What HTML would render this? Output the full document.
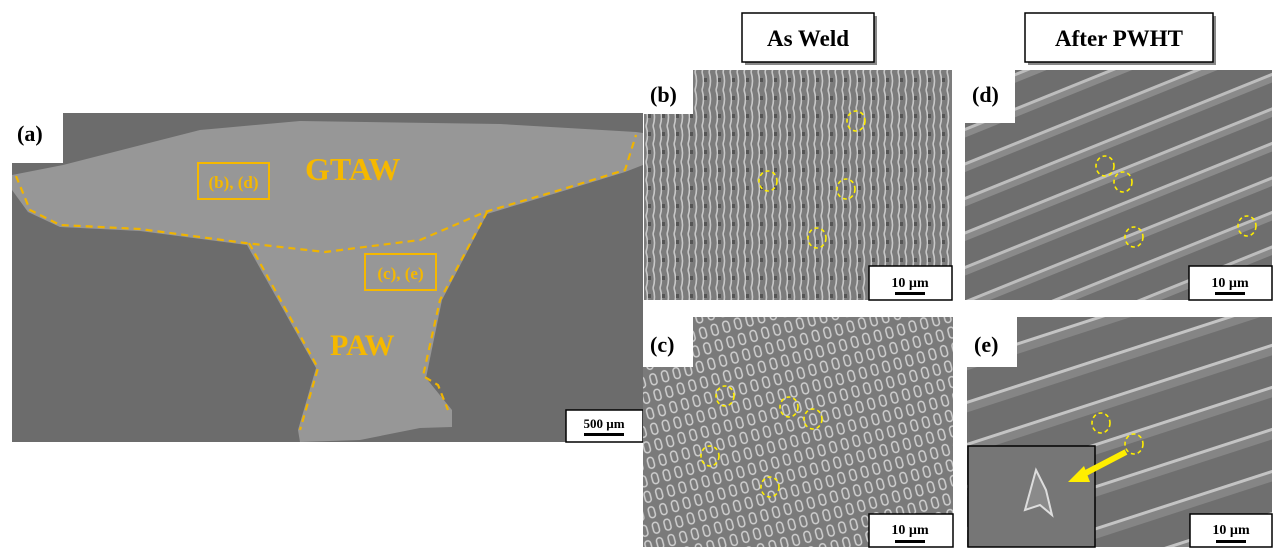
<!DOCTYPE html>
<html><head><meta charset="utf-8"><style>
html,body{margin:0;padding:0;background:#fff;}
svg{display:block;}
text{font-family:"Liberation Serif",serif;font-weight:bold;}
</style></head><body>
<svg width="1281" height="558" viewBox="0 0 1281 558" xmlns="http://www.w3.org/2000/svg">
<defs>
<pattern id="dend" width="14" height="18" patternUnits="userSpaceOnUse">
<rect width="14" height="18" fill="#7c7c7c"/>
<path d="M2 0 Q5 9 2 18 M9 0 Q12 9 9 18" stroke="#c8c8c8" stroke-width="1.6" fill="none"/>
<rect x="4" y="6" width="3" height="4" fill="#555"/>
</pattern>
<pattern id="dend2" width="12" height="16" patternUnits="userSpaceOnUse" patternTransform="rotate(-15)">
<rect width="12" height="16" fill="#7a7a7a"/>
<rect x="2" y="2" width="6" height="11" rx="3" fill="none" stroke="#d0d0d0" stroke-width="1.5"/>
</pattern>
<pattern id="stripe" width="60" height="32" patternUnits="userSpaceOnUse" patternTransform="rotate(-22)">
<rect width="60" height="32" fill="#6e6e6e"/>
<rect y="0" width="60" height="3" fill="#bdbdbd"/>
<rect y="3" width="60" height="6" fill="#8a8a8a"/>
</pattern>
<pattern id="stripe2" width="60" height="40" patternUnits="userSpaceOnUse" patternTransform="rotate(-18)">
<rect width="60" height="40" fill="#6f6f6f"/>
<rect y="0" width="60" height="3" fill="#c4c4c4"/>
<rect y="3" width="60" height="8" fill="#858585"/>
</pattern>
</defs>

<!-- Panel (a) -->
<rect x="12" y="113" width="631" height="329" fill="#6c6c6c"/>
<rect x="12" y="113" width="51" height="50" fill="#fff"/>
<path d="M12 175 L63 165 L200 130 L300 121 L500 124 L636 132 L643 133 L643 165 L625 172 L560 192 L487 214 L442 300 L426 378 L452 410 L452 427 L420 428 L360 440 L300 442 L298 430 L316 368 L247 245 L140 231 L60 227 L28 212 L12 190 Z" fill="#979797"/>
<path d="M16 176 L30 210 L60 225 L140 229 L245 243 L325 252 L420 240 L485 212 L560 190 L625 170 L636 135" stroke="#f0b400" stroke-width="2.2" stroke-dasharray="7,5" fill="none"/>
<path d="M249 243 L318 368 L300 430" stroke="#f0b400" stroke-width="2.2" stroke-dasharray="7,5" fill="none"/>
<path d="M487 212 L440 300 L423 376 L438 385 L448 410" stroke="#f0b400" stroke-width="2.2" stroke-dasharray="7,5" fill="none"/>
<text x="17" y="141" font-size="22" fill="#000">(a)</text>
<text x="305" y="180" font-size="32" fill="#f5b800">GTAW</text>
<text x="330" y="355" font-size="30" fill="#f5b800">PAW</text>
<rect x="198" y="163" width="71" height="36" fill="none" stroke="#f5b800" stroke-width="2"/>
<text x="233.5" y="188" font-size="17" fill="#f5b800" text-anchor="middle">(b), (d)</text>
<rect x="365" y="254" width="71" height="36" fill="none" stroke="#f5b800" stroke-width="2"/>
<text x="400.5" y="279" font-size="17" fill="#f5b800" text-anchor="middle">(c), (e)</text>
<rect x="566" y="410" width="77" height="32" fill="#fff" stroke="#000" stroke-width="1.5"/>
<text x="604" y="428" font-size="13" fill="#000" text-anchor="middle">500 µm</text>
<rect x="584" y="433" width="40" height="3" fill="#000"/>

<!-- Headers -->
<rect x="745" y="16" width="132" height="49" fill="#888"/>
<rect x="742" y="13" width="132" height="49" fill="#fff" stroke="#000" stroke-width="1.5"/>
<text x="808" y="46" font-size="23" text-anchor="middle" fill="#000">As Weld</text>
<rect x="1028" y="16" width="188" height="49" fill="#888"/>
<rect x="1025" y="13" width="188" height="49" fill="#fff" stroke="#000" stroke-width="1.5"/>
<text x="1119" y="46" font-size="23" text-anchor="middle" fill="#000">After PWHT</text>

<!-- Panel b -->
<rect x="644" y="70" width="308" height="230" fill="url(#dend)"/>
<rect x="644" y="70" width="49" height="44" fill="#fff"/>
<text x="650" y="102" font-size="22" fill="#000">(b)</text>
<g fill="none" stroke="#ffee00" stroke-width="1.6" stroke-dasharray="4,3">
<ellipse cx="856" cy="121" rx="9" ry="10"/><ellipse cx="768" cy="181" rx="9" ry="10"/>
<ellipse cx="846" cy="189" rx="9" ry="10"/><ellipse cx="817" cy="238" rx="9" ry="10"/>
</g>
<rect x="869" y="266" width="83" height="34" fill="#fff" stroke="#000" stroke-width="1.5"/>
<text x="910" y="287" font-size="14" text-anchor="middle" fill="#000">10 µm</text>
<rect x="895" y="292" width="30" height="3" fill="#000"/>

<!-- Panel d -->
<rect x="965" y="70" width="307" height="230" fill="url(#stripe)"/>
<rect x="965" y="70" width="50" height="53" fill="#fff"/>
<text x="972" y="102" font-size="22" fill="#000">(d)</text>
<g fill="none" stroke="#ffee00" stroke-width="1.6" stroke-dasharray="4,3">
<ellipse cx="1105" cy="166" rx="9" ry="10"/><ellipse cx="1123" cy="182" rx="9" ry="10"/>
<ellipse cx="1134" cy="237" rx="9" ry="10"/><ellipse cx="1247" cy="226" rx="9" ry="10"/>
</g>
<rect x="1189" y="266" width="83" height="34" fill="#fff" stroke="#000" stroke-width="1.5"/>
<text x="1230" y="287" font-size="14" text-anchor="middle" fill="#000">10 µm</text>
<rect x="1215" y="292" width="30" height="3" fill="#000"/>

<!-- Panel c -->
<rect x="643" y="317" width="310" height="230" fill="url(#dend2)"/>
<rect x="643" y="317" width="50" height="50" fill="#fff"/>
<text x="650" y="352" font-size="22" fill="#000">(c)</text>
<g fill="none" stroke="#ffee00" stroke-width="1.6" stroke-dasharray="4,3">
<ellipse cx="725" cy="396" rx="9" ry="10"/><ellipse cx="789" cy="407" rx="9" ry="10"/>
<ellipse cx="813" cy="419" rx="9" ry="10"/><ellipse cx="710" cy="456" rx="9" ry="10"/>
<ellipse cx="770" cy="487" rx="9" ry="10"/>
</g>
<rect x="869" y="514" width="84" height="33" fill="#fff" stroke="#000" stroke-width="1.5"/>
<text x="910" y="534" font-size="14" text-anchor="middle" fill="#000">10 µm</text>
<rect x="895" y="540" width="30" height="3" fill="#000"/>

<!-- Panel e -->
<rect x="967" y="317" width="305" height="230" fill="url(#stripe2)"/>
<rect x="967" y="317" width="50" height="50" fill="#fff"/>
<text x="974" y="352" font-size="22" fill="#000">(e)</text>
<g fill="none" stroke="#ffee00" stroke-width="1.6" stroke-dasharray="4,3">
<ellipse cx="1101" cy="423" rx="9" ry="10"/><ellipse cx="1134" cy="444" rx="9" ry="10"/>
</g>
<rect x="968" y="446" width="127" height="101" fill="#767676" stroke="#000" stroke-width="1.5"/>
<path d="M1036 470 L1046 490 L1052 515 L1040 505 L1025 510 Z" fill="#8a8a8a" stroke="#ddd" stroke-width="2"/>
<line x1="1126" y1="452" x2="1080" y2="476" stroke="#ffee00" stroke-width="6"/>
<polygon points="1068,482 1084,466 1090,482" fill="#ffee00"/>
<rect x="1190" y="514" width="82" height="33" fill="#fff" stroke="#000" stroke-width="1.5"/>
<text x="1231" y="534" font-size="14" text-anchor="middle" fill="#000">10 µm</text>
<rect x="1216" y="540" width="30" height="3" fill="#000"/>
</svg>
</body></html>
